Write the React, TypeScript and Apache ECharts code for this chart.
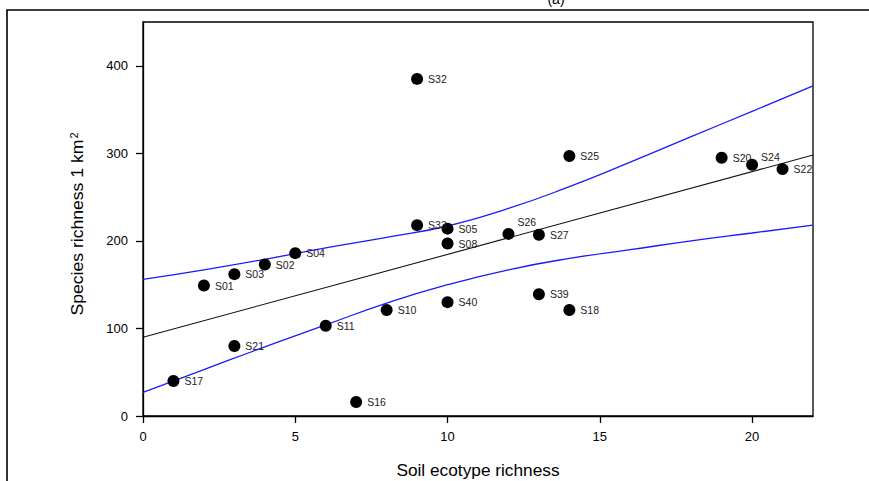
import React, { useEffect, useRef } from "react";
import * as echarts from "echarts";

// Sites: soil ecotype richness (x) vs species richness per 1 km² (y)
const siteNames = ["S01","S03","S02","S04","S17","S21","S11","S16","S10","S40","S32","S33","S05","S08","S26","S27","S25","S39","S18","S20","S24","S22"];
const soilRichness = [2,3,4,5,1,3,6,7,8,10,9,9,10,10,12,13,14,13,14,19,20,21];
const speciesRichness = [149,162,173,186,40,80,103,16,121,130,385,218,214,197,208,207,297,139,121,295,287,282];

// Fitted regression line (read at ends)
const fitX = [0, 22];
const fitY = [90, 298];

// 95% confidence bands
const bandX = [0, 2, 4, 6, 8, 10, 12, 14, 16, 18, 20, 22];
const upperBand = [156, 167, 179, 192, 204, 217, 237, 262, 290, 319, 348, 377];
const lowerBand = [27, 53, 79, 104, 129, 150, 167, 180, 190, 200, 209, 218];

const xTicks = [0, 5, 10, 15, 20];
const yTicks = [0, 100, 200, 300, 400];

const labelOffsets: Record<string, [number, number]> = {
  S26: [-2, -12],
  S24: [-2, -8],
};

const FONT = "Liberation Sans, Arial, sans-serif";

export default function App() {
  const ref = useRef<HTMLDivElement>(null);
  useEffect(() => {
    if (!ref.current) return;
    const chart = echarts.init(ref.current, null, { renderer: "svg" });
    const points = siteNames.map((n, i) => {
      const item: any = { value: [soilRichness[i], speciesRichness[i]], name: n };
      if (labelOffsets[n]) item.label = { offset: labelOffsets[n] };
      return item;
    });
    chart.setOption({
      animation: false,
      backgroundColor: "#fff",
      grid: {
        left: 143,
        top: 22,
        width: 670,
        height: 394,
        containLabel: false,
        outerBoundsMode: "none",
        show: true,
        borderColor: "#000",
        borderWidth: 1.3,
      },
      xAxis: {
        type: "value",
        min: 0,
        max: 22,
        interval: 5,
        splitLine: { show: false },
        axisLine: { show: true, lineStyle: { color: "#000", width: 1.3 } },
        axisTick: { show: true, length: 7, inside: false, lineStyle: { color: "#000", width: 1.3 }, customValues: xTicks },
        axisLabel: { color: "#000", fontSize: 13, fontFamily: FONT, margin: 14, customValues: xTicks },
      },
      yAxis: {
        type: "value",
        min: 0,
        max: 450,
        interval: 100,
        splitLine: { show: false },
        axisLine: { show: true, lineStyle: { color: "#000", width: 1.3 } },
        axisTick: { show: true, length: 7, inside: false, lineStyle: { color: "#000", width: 1.3 }, customValues: yTicks },
        axisLabel: { color: "#000", fontSize: 13, fontFamily: FONT, margin: 15, customValues: yTicks },
      },
      series: [
        {
          type: "line",
          data: bandX.map((x, i) => [x, upperBand[i]]),
          smooth: true,
          symbol: "none",
          lineStyle: { color: "#1a1aff", width: 1.3 },
          z: 2,
        },
        {
          type: "line",
          data: bandX.map((x, i) => [x, lowerBand[i]]),
          smooth: true,
          symbol: "none",
          lineStyle: { color: "#1a1aff", width: 1.3 },
          z: 2,
        },
        {
          type: "line",
          data: fitX.map((x, i) => [x, fitY[i]]),
          symbol: "none",
          lineStyle: { color: "#111", width: 1.1 },
          z: 2,
        },
        {
          type: "scatter",
          data: points,
          symbol: "circle",
          symbolSize: 12,
          itemStyle: { color: "#000", opacity: 1 },
          label: {
            show: true,
            position: "right",
            distance: 5,
            formatter: (p: any) => p.name,
            color: "#222",
            fontSize: 10.5,
            fontFamily: FONT,
          },
          z: 3,
        },
      ],
      graphic: [
        {
          type: "rect",
          shape: { x: 7, y: 10, width: 900, height: 520 },
          style: { fill: "none", stroke: "#000", lineWidth: 1.6 },
          silent: true,
        },
        {
          type: "text",
          x: 556,
          y: 6,
          style: { text: "(a)", fontSize: 14, fontFamily: FONT, fill: "#000", textAlign: "center", textVerticalAlign: "bottom" },
        },
        {
          type: "text",
          x: 78,
          y: 224,
          rotation: Math.PI / 2,
          scaleX: 1.1,
          style: {
            text: "Species richness 1 km{sup|2}",
            fontSize: 16,
            fontFamily: FONT,
            fill: "#000",
            textAlign: "center",
            textVerticalAlign: "middle",
            rich: {
              sup: { fontSize: 10, fontFamily: FONT, fill: "#000", verticalAlign: "top", padding: [0, 0, 8, 1] },
            },
          },
        },
        {
          type: "text",
          x: 478,
          y: 471,
          scaleX: 1.08,
          style: {
            text: "Soil ecotype richness",
            fontSize: 16,
            fontFamily: FONT,
            fill: "#000",
            textAlign: "center",
            textVerticalAlign: "middle",
          },
        },
      ],
    });
    return () => chart.dispose();
  }, []);
  return (
    <div
      ref={ref}
      style={{ position: "fixed", left: 0, top: 0, width: 869, height: 481, background: "#fff" }}
    />
  );
}
